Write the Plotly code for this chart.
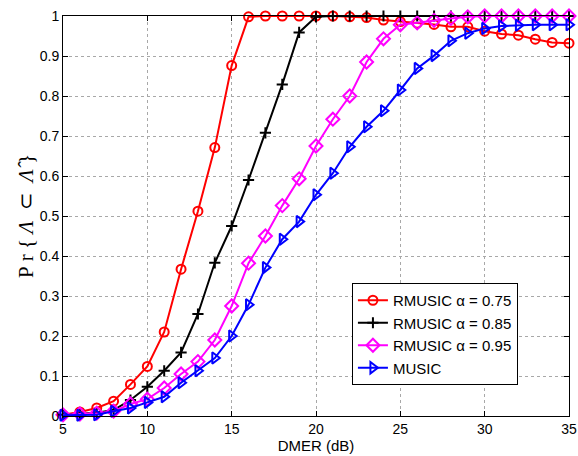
import plotly.graph_objects as go

dmer = list(range(5, 36))

rmusic_075 = [0.003, 0.010, 0.020, 0.037, 0.079, 0.124, 0.210, 0.367, 0.512, 0.671, 0.876,
              0.998, 1.0, 1.0, 1.0, 1.0, 1.0, 0.998, 0.996, 0.990, 0.986, 0.982, 0.979,
              0.973, 0.973, 0.962, 0.955, 0.952, 0.942, 0.934, 0.932]
rmusic_085 = [0.003, 0.005, 0.008, 0.015, 0.040, 0.073, 0.113, 0.159, 0.255, 0.383, 0.475,
              0.590, 0.708, 0.829, 0.959, 0.998, 1.0, 1.0, 1.0, 1.0, 1.0, 1.0, 1.0,
              1.0, 1.0, 1.0, 1.0, 1.0, 1.0, 1.0, 1.0]
rmusic_095 = [0.003, 0.005, 0.007, 0.012, 0.030, 0.042, 0.070, 0.105, 0.136, 0.190, 0.275,
              0.382, 0.450, 0.526, 0.593, 0.675, 0.742, 0.800, 0.885, 0.943, 0.978, 0.983,
              0.989, 0.994, 0.998, 1.0, 1.0, 1.0, 1.0, 1.0, 1.0]
music = [0.002, 0.002, 0.003, 0.012, 0.020, 0.034, 0.048, 0.083, 0.113, 0.145, 0.200,
         0.278, 0.371, 0.442, 0.486, 0.553, 0.607, 0.673, 0.723, 0.763, 0.815, 0.869,
         0.901, 0.938, 0.957, 0.969, 0.975, 0.977, 0.978, 0.978, 0.978]

series_names = ["RMUSIC α = 0.75", "RMUSIC α = 0.85", "RMUSIC α = 0.95", "MUSIC"]
x_ticks = [5, 10, 15, 20, 25, 30, 35]
y_ticks = [0, 0.1, 0.2, 0.3, 0.4, 0.5, 0.6, 0.7, 0.8, 0.9, 1.0]
y_tick_labels = ["0", "0.1", "0.2", "0.3", "0.4", "0.5", "0.6", "0.7", "0.8", "0.9", "1"]

NB = "\u00a0"
y_title = ("P" + NB + "r" + NB + "{" + NB + "<i>Λ</i>" + NB + NB + "⊂" + NB + NB
           + "<i>Λ̂</i>" + NB + "}")

styles = [
    dict(color="#ff0000", symbol="circle-open", size=9),
    dict(color="#000000", symbol="cross-thin-open", size=8),
    dict(color="#ff00ff", symbol="diamond-open", size=10),
    dict(color="#0000ff", symbol="triangle-right-open", size=10),
]

fig = go.Figure()
for name, ys, st in zip(series_names, [rmusic_075, rmusic_085, rmusic_095, music], styles):
    fig.add_trace(go.Scatter(
        x=dmer, y=ys, name=name, mode="lines+markers",
        line=dict(color=st["color"], width=2),
        marker=dict(symbol=st["symbol"], size=st["size"], color=st["color"],
                    line=dict(color=st["color"], width=2)),
        cliponaxis=False,
    ))

axis_common = dict(
    showline=True, linecolor="black", linewidth=1, mirror="ticks",
    ticks="inside", ticklen=5, tickcolor="black",
    showgrid=True, gridcolor="#a8a8a8", griddash="dot", gridwidth=1,
    zeroline=False, automargin=False, ticklabeloverflow="allow",
    tickfont=dict(family="Liberation Sans", size=14, color="black"),
)

fig.update_layout(
    width=578, height=456,
    margin=dict(l=63, r=9, t=16, b=40),
    paper_bgcolor="white", plot_bgcolor="white",
    xaxis=dict(range=[5, 35], tickvals=x_ticks, ticktext=[str(v) for v in x_ticks],
               title=dict(text="DMER (dB)", standoff=4,
                          font=dict(family="Liberation Sans", size=15, color="black")),
               **axis_common),
    yaxis=dict(range=[0, 1], tickvals=y_ticks, ticktext=y_tick_labels,
               title=dict(text=y_title, standoff=0,
                          font=dict(family="Liberation Serif", size=21, color="black")),
               **axis_common),
    legend=dict(x=0.571, y=0.3325, xanchor="left", yanchor="top",
                bgcolor="white", bordercolor="black", borderwidth=1,
                font=dict(family="Liberation Sans", size=15, color="black"),
                tracegroupgap=0),
    showlegend=True,
)

# remove the page's default body margin so the figure fills the window exactly
fig.write_html(
    "out.html",
    config={"displayModeBar": False},
    post_script="document.body.style.margin='0';document.body.style.overflow='hidden';",
)
